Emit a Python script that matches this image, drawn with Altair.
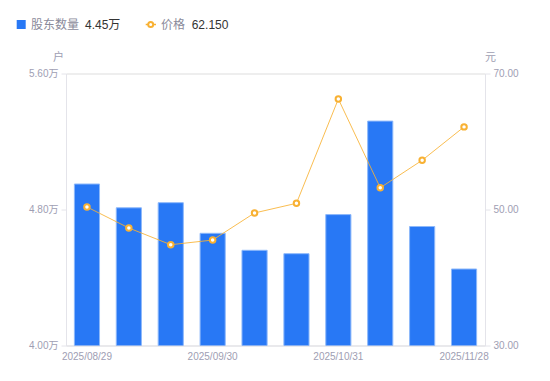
import altair as alt
import pandas as pd

dates = ["2025/08/29", "2025/09/10", "2025/09/19", "2025/09/30", "2025/10/10",
         "2025/10/20", "2025/10/31", "2025/11/10", "2025/11/20", "2025/11/28"]
holders_wan = [4.95, 4.81, 4.84, 4.66, 4.56, 4.54, 4.77, 5.32, 4.70, 4.45]
price = [50.37, 47.28, 44.82, 45.51, 49.49, 50.91, 66.25, 53.20, 57.24, 62.15]
shown_dates = ["2025/08/29", "2025/09/30", "2025/10/31", "2025/11/28"]
left_ticks = [4.0, 4.8, 5.6]
right_ticks = [30, 50, 70]
legend_holders = "股东数量"
legend_holders_val = "4.45万"
legend_price = "价格"
legend_price_val = "62.150"

df = pd.DataFrame({"date": dates, "holders": holders_wan, "price": price})
one = pd.DataFrame({"k": [0]})

FONT = "Liberation Sans, Noto Sans CJK SC, sans-serif"
BLUE = "#2878F5"
ORANGE = "#F8B133"
AXIS_GRAY = "#9E9EB3"
LINE_GRAY = "#E4E4EA"

x_enc = alt.X(
    "date:N",
    sort=dates,
    scale=alt.Scale(paddingInner=0.4, paddingOuter=0.2),
    axis=alt.Axis(values=shown_dates, labelAngle=0, ticks=False, domainColor=LINE_GRAY,
                  labelColor=AXIS_GRAY, labelPadding=6, labelFontSize=10, title=None,
                  labelOverlap=False, labelBound=False),
)

bars = alt.Chart(df).mark_bar(color=BLUE, stroke="#8DB8FA", strokeWidth=1, clip=True).encode(
    x=x_enc,
    y=alt.Y("holders:Q",
            scale=alt.Scale(domain=[4.0, 5.6], nice=False, zero=False),
            axis=alt.Axis(orient="left", values=left_ticks, grid=False, tickSize=5,
                          tickColor=LINE_GRAY, domainColor=LINE_GRAY,
                          labelExpr="format(datum.value, '.2f') + '万'",
                          labelColor=AXIS_GRAY, labelFontSize=10, labelPadding=3,
                          title="户", titleAngle=0, titleX=-8, titleY=-16,
                          titleAlign="center", titleBaseline="middle",
                          titleColor=AXIS_GRAY, titleFontWeight="normal", titleFontSize=11)),
)

line = alt.Chart(df).mark_line(
    color=ORANGE, strokeWidth=1, strokeOpacity=0.85,
    point=alt.OverlayMarkDef(filled=True, fill="white", stroke=ORANGE, strokeWidth=2, size=30, opacity=1),
).encode(
    x=x_enc,
    y=alt.Y("price:Q",
            scale=alt.Scale(domain=[30, 70], nice=False, zero=False),
            axis=alt.Axis(orient="right", values=right_ticks, grid=False, tickSize=5,
                          tickColor=LINE_GRAY, domainColor=LINE_GRAY, format=".2f",
                          labelColor=AXIS_GRAY, labelFontSize=10, labelPadding=3,
                          title="元", titleAngle=0, titleX=5, titleY=-16,
                          titleAlign="center", titleBaseline="middle",
                          titleColor=AXIS_GRAY, titleFontWeight="normal", titleFontSize=11)),
)

LY = -49
leg_square = alt.Chart(one).mark_square(size=81, color=BLUE, opacity=1).encode(
    x=alt.value(-44.8), y=alt.value(LY))
leg_t1 = alt.Chart(one).mark_text(align="left", baseline="middle", fontSize=12, color="#8A8A9A", font=FONT).encode(
    x=alt.value(-35), y=alt.value(LY), text=alt.value(legend_holders))
leg_v1 = alt.Chart(one).mark_text(align="left", baseline="middle", fontSize=12, color="#333333", font=FONT).encode(
    x=alt.value(19), y=alt.value(LY), text=alt.value(legend_holders_val))
leg_rule = alt.Chart(one).mark_rule(color=ORANGE, strokeWidth=1.5).encode(
    x=alt.value(79.7), x2=alt.value(90), y=alt.value(LY))
leg_pt = alt.Chart(one).mark_point(filled=True, fill="white", stroke=ORANGE, strokeWidth=2, size=25, opacity=1).encode(
    x=alt.value(84.7), y=alt.value(LY))
leg_t2 = alt.Chart(one).mark_text(align="left", baseline="middle", fontSize=12, color="#8A8A9A", font=FONT).encode(
    x=alt.value(95), y=alt.value(LY), text=alt.value(legend_price))
leg_v2 = alt.Chart(one).mark_text(align="left", baseline="middle", fontSize=12, color="#333333", font=FONT).encode(
    x=alt.value(125.7), y=alt.value(LY), text=alt.value(legend_price_val))

chart = alt.layer(
    bars, line, leg_square, leg_t1, leg_v1, leg_rule, leg_pt, leg_t2, leg_v2
).resolve_scale(y="independent").properties(
    width=419, height=272,
    autosize=alt.AutoSizeParams(type="none"),
    padding={"left": 58, "top": 65.5, "right": 55, "bottom": 25},
).configure_view(stroke=None).configure(font=FONT)

chart.save("out.html", embed_options={"renderer": "svg", "actions": False})
